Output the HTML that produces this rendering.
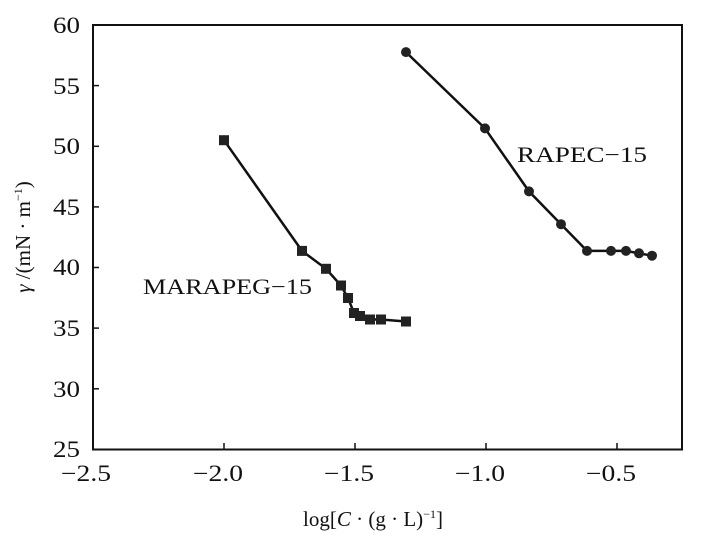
<!DOCTYPE html>
<html><head><meta charset="utf-8"><style>body{margin:0;background:#fff}svg{display:block}text{font-family:"Liberation Serif",serif;fill:#111}</style></head><body>
<svg width="711" height="538" xmlns="http://www.w3.org/2000/svg">
<rect x="93" y="25" width="589" height="424.5" fill="none" stroke="#111" stroke-width="2"/>
<g stroke="#111" stroke-width="1.5">
<line x1="224" y1="449.5" x2="224" y2="443"/><line x1="355" y1="449.5" x2="355" y2="443"/><line x1="486" y1="449.5" x2="486" y2="443"/><line x1="617" y1="449.5" x2="617" y2="443"/>
<line x1="93" y1="85.6" x2="99" y2="85.6"/><line x1="93" y1="146.3" x2="99" y2="146.3"/><line x1="93" y1="206.9" x2="99" y2="206.9"/><line x1="93" y1="267.5" x2="99" y2="267.5"/><line x1="93" y1="328.1" x2="99" y2="328.1"/><line x1="93" y1="388.8" x2="99" y2="388.8"/>
</g>
<g font-size="23" text-anchor="end" lengthAdjust="spacingAndGlyphs">
<text x="80" y="33" textLength="27" lengthAdjust="spacingAndGlyphs">60</text><text x="80" y="94" textLength="27" lengthAdjust="spacingAndGlyphs">55</text><text x="80" y="154" textLength="27" lengthAdjust="spacingAndGlyphs">50</text><text x="80" y="215" textLength="27" lengthAdjust="spacingAndGlyphs">45</text><text x="80" y="275" textLength="27" lengthAdjust="spacingAndGlyphs">40</text><text x="80" y="336" textLength="27" lengthAdjust="spacingAndGlyphs">35</text><text x="80" y="397" textLength="27" lengthAdjust="spacingAndGlyphs">30</text><text x="80" y="457" textLength="27" lengthAdjust="spacingAndGlyphs">25</text>
</g>
<g font-size="23" text-anchor="middle">
<text x="86" y="481" textLength="50" lengthAdjust="spacingAndGlyphs">−2.5</text><text x="218" y="481" textLength="50" lengthAdjust="spacingAndGlyphs">−2.0</text><text x="349" y="481" textLength="50" lengthAdjust="spacingAndGlyphs">−1.5</text><text x="480" y="481" textLength="50" lengthAdjust="spacingAndGlyphs">−1.0</text><text x="611" y="481" textLength="50" lengthAdjust="spacingAndGlyphs">−0.5</text>
</g>
<text x="373" y="526" font-size="21" text-anchor="middle">log[<tspan font-style="italic">C</tspan> · (g · L)<tspan font-size="12" dy="-8">−1</tspan><tspan dy="8">]</tspan></text>
<text transform="translate(30,237) rotate(-90)" font-size="21" text-anchor="middle"><tspan font-style="italic">γ</tspan> /(mN · m<tspan font-size="12" dy="-8">−1</tspan><tspan dy="8">)</tspan></text>
<text x="517" y="162" font-size="22" textLength="130" lengthAdjust="spacingAndGlyphs">RAPEC−15</text>
<text x="143" y="294" font-size="22" textLength="169" lengthAdjust="spacingAndGlyphs">MARAPEG−15</text>
<polyline fill="none" stroke="#111" stroke-width="2.5" points="406,52.1 485,128.4 529,191.4 561,224.2 587,250.9 611,250.9 626,250.9 639,253.3 652,255.7"/>
<g fill="#222">
<circle cx="406" cy="52.1" r="5"/><circle cx="485" cy="128.4" r="5"/><circle cx="529" cy="191.4" r="5"/><circle cx="561" cy="224.2" r="5"/><circle cx="587" cy="250.9" r="5"/><circle cx="611" cy="250.9" r="5"/><circle cx="626" cy="250.9" r="5"/><circle cx="639" cy="253.3" r="5"/><circle cx="652" cy="255.7" r="5"/>
</g>
<polyline fill="none" stroke="#111" stroke-width="2.5" points="224,140.2 302,250.9 326,268.8 341,285.5 348,298 354,313 360,316 370,319.5 381,319.5 406,321.5"/>
<g fill="#222">
<rect x="219" y="135.2" width="10" height="10"/><rect x="297" y="245.9" width="10" height="10"/><rect x="321" y="263.8" width="10" height="10"/><rect x="336" y="280.5" width="10" height="10"/><rect x="343" y="293" width="10" height="10"/><rect x="349" y="308" width="10" height="10"/><rect x="355" y="311" width="10" height="10"/><rect x="365" y="314.5" width="10" height="10"/><rect x="376" y="314.5" width="10" height="10"/><rect x="401" y="316.5" width="10" height="10"/>
</g>
</svg>
</body></html>
